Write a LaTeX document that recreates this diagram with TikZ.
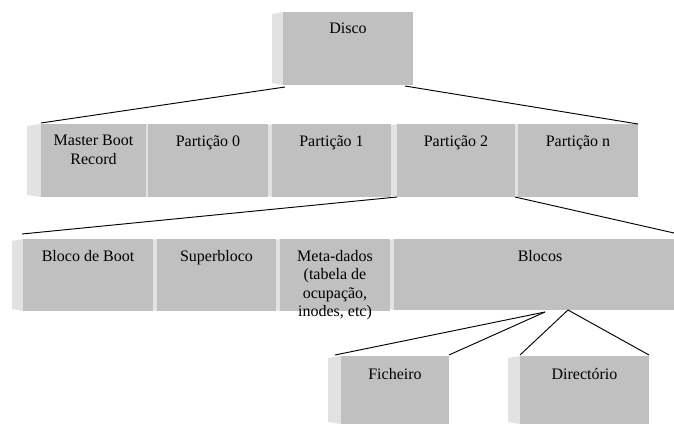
\documentclass[tikz,border=0pt]{standalone}
\usepackage{fontspec}
\setmainfont{Liberation Serif}
\usetikzlibrary{calc,fit,backgrounds}
\definecolor{facegray}{HTML}{C0C0C0}
\definecolor{sidegray}{HTML}{E2E2E2}
\tikzset{
  face/.style={rectangle, draw=none, fill=facegray, inner sep=0pt, outer sep=0pt},
  side/.style={fill=sidegray},
  lbl/.style={anchor=north, inner sep=0pt, align=center,
              font=\fontsize{12pt}{13.8pt}\selectfont},
  link/.style={draw=black, line width=0.7pt},
}
% light bevelled panel on the left of a block: node name, panel width
\newcommand\sidepanel[2]{%
  \fill[side] ($(#1.north west)+(-#2,2)$) -- (#1.north west) --
    (#1.south west) -- ($(#1.south west)+(-#2,-2)$) -- cycle;}
\begin{document}
\begin{tikzpicture}[x=0.75pt, y=-0.75pt]
\useasboundingbox (0,0) rectangle (674,424);

% disk
\node[face, fit={(283,12) (413,85)}] (disco) {};
\node[lbl] (tdisco) at ($(disco.north)+(0,11)$) {Disco};

% partitions
\node[face, fit={(41,124) (146,197)}]  (mbr) {};
\node[face, fit={(148,124) (268,197)}] (p0) {};
\node[face, fit={(272,124) (391,197)}] (p1) {};
\node[face, fit={(397,124) (515,197)}] (p2) {};
\node[face, fit={(518,124) (638,197)}] (pn) {};
\node[lbl] (tmbr) at ($(mbr.north)+(0,11)$) {Master Boot\\Record};
\node[lbl] (tp0) at ($(p0.north)+(0,11)$) {Partição 0};
\node[lbl] (tp1) at ($(p1.north)+(0,11)$) {Partição 1};
\node[lbl] (tp2) at ($(p2.north)+(0,11)$) {Partição 2};
\node[lbl] (tpn) at ($(pn.north)+(0,11)$) {Partição n};

% inside a partition
\node[face, fit={(23,239) (153,311)}]  (bb) {};
\node[face, fit={(157,239) (276,311)}] (sb) {};
\node[face, fit={(280,239) (390,311)}] (md) {};
\node[face, fit={(394,239) (674,310)}] (bl) {};
\node[lbl] (tbb) at ($(bb.north)+(0,11)$) {Bloco de Boot};
\node[lbl] (tsb) at ($(sb.north)+(0,11)$) {Superbloco};
\node[lbl] (tmd) at ($(md.north)+(0,11)$) {Meta-dados\\(tabela de\\ocupação,\\inodes, etc)};
\node[lbl] (tbl) at ($(bl.north west)+(146,11)$) {Blocos};

% kinds of blocks
\node[face, fit={(341,356) (449,424)}] (fi) {};
\node[face, fit={(520,356) (649,424)}] (di) {};
\node[lbl] (tfi) at ($(fi.north)+(0,12)$) {Ficheiro};
\node[lbl] (tdi) at ($(di.north)+(0,12)$) {Directório};

% white page and bevelled sides, behind the faces
\begin{scope}[on background layer]
  \fill[white] (0,0) rectangle (674,424);
  \sidepanel{disco}{11}
  \sidepanel{mbr}{14}
  \sidepanel{p0}{8}
  \sidepanel{p1}{8}
  \sidepanel{p2}{8}
  \sidepanel{pn}{8}
  \sidepanel{bb}{11}
  \sidepanel{sb}{8}
  \sidepanel{md}{8}
  \sidepanel{bl}{8}
  \sidepanel{fi}{13}
  \sidepanel{di}{12}
\end{scope}

% connectors
\coordinate (blA) at ($(bl.south west)+(151,2)$);
\coordinate (blB) at ($(bl.south west)+(174,0)$);
\draw[link] ($(disco.south west)+(2,2)$) -- ($(mbr.north west)+(0,-1)$);
\draw[link] ($(disco.south east)+(-8,1)$) -- (pn.north east);
\draw[link] (p2.south west) -- ($(bb.north west)+(-1,-5)$);
\draw[link] (p2.south east) -- ($(bl.north east)+(0,-6)$);
\draw[link] (blA) -- ($(fi.north west)+(-6,-1)$);
\draw[link] (blA) -- ($(fi.north east)+(0,-1)$);
\draw[link] (blB) -- ($(di.north west)+(0,-1)$);
\draw[link] (blB) -- ($(di.north east)+(0,-1)$);
\end{tikzpicture}
\end{document}
